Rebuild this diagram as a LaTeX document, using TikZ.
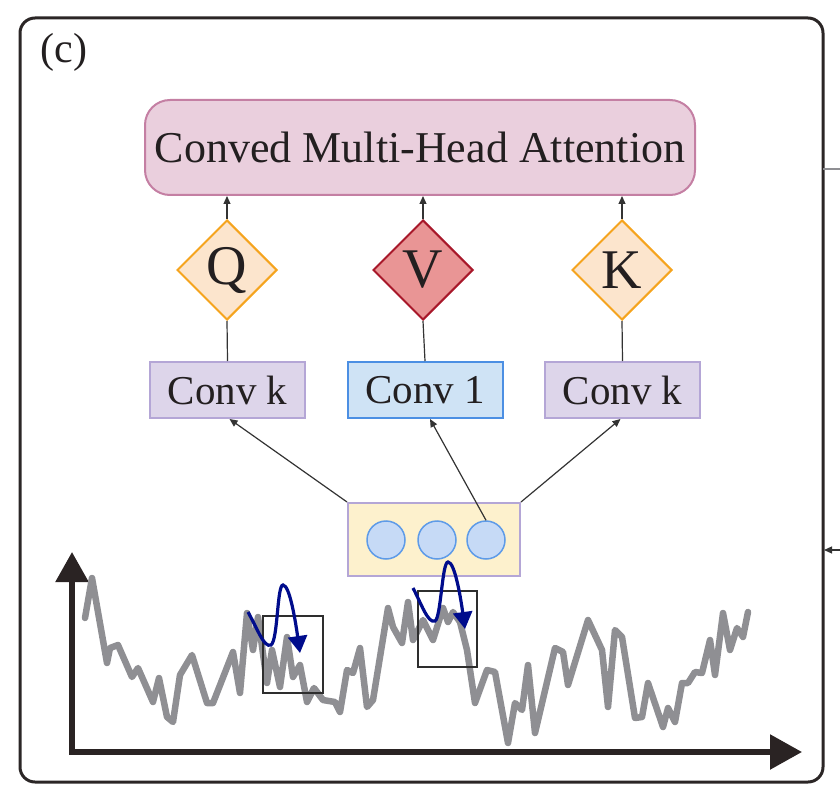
\documentclass[tikz,border=0pt]{standalone}
\usepackage{fontspec}
\setmainfont{Liberation Serif}
\usetikzlibrary{shapes.geometric,arrows.meta,calc}
\definecolor{txt}{HTML}{231F20}
\definecolor{frame}{HTML}{2B2626}
\definecolor{titlefill}{HTML}{EACFDD}
\definecolor{titledraw}{HTML}{C47FA3}
\definecolor{qkfill}{HTML}{FCE5CD}
\definecolor{qkdraw}{HTML}{F5A41E}
\definecolor{vfill}{HTML}{E99595}
\definecolor{vdraw}{HTML}{A8182A}
\definecolor{ckfill}{HTML}{DDD5EA}
\definecolor{ckdraw}{HTML}{B4A6D6}
\definecolor{cofill}{HTML}{CFE3F5}
\definecolor{codraw}{HTML}{4C8FE3}
\definecolor{embfill}{HTML}{FDF1CD}
\definecolor{circfill}{HTML}{C6DAF6}
\definecolor{circdraw}{HTML}{5E9BE8}
\definecolor{series}{HTML}{8F8F93}
\definecolor{navy}{HTML}{000C8C}
\definecolor{axiscol}{HTML}{2A2323}
\definecolor{conn}{HTML}{333333}
\begin{document}
\begin{tikzpicture}[x=1pt,y=-1pt,
  titlebox/.style={draw=titledraw,fill=titlefill,line width=2,rounded corners=25,minimum width=550,minimum height=95,inner sep=0,text=txt,font=\fontsize{44}{48}\selectfont},
  qkdiam/.style={diamond,draw=qkdraw,fill=qkfill,line width=2,minimum width=100,minimum height=100,inner sep=0,text=txt,font=\fontsize{56}{60}\selectfont},
  vdiam/.style={qkdiam,draw=vdraw,fill=vfill},
  convk/.style={draw=ckdraw,fill=ckfill,line width=2,minimum width=155,minimum height=56,inner sep=0,text=txt,font=\fontsize{41}{44}\selectfont},
  convone/.style={convk,draw=codraw,fill=cofill},
  embbox/.style={draw=ckdraw,fill=embfill,line width=2,minimum width=172,minimum height=73,inner sep=0},
  emb/.style={circle,draw=circdraw,fill=circfill,line width=1.5,minimum size=38,inner sep=0},
  arr/.style={draw=conn,line width=1.2,-{Triangle[length=8pt,width=7pt]}},
  link/.style={draw=conn,line width=1.2},
  ts/.style={draw=series,line width=6.5,line join=round,line cap=round},
  win/.style={draw=conn!90!black,line width=1.4},
  wave/.style={draw=navy,line width=3.2,-{Triangle[length=17pt,width=19pt]}},
  axis/.style={draw=axiscol,line width=5.5,{Triangle[length=30pt,width=32pt]}-{Triangle[length=32pt,width=34pt]}}
]
\useasboundingbox (0,0) rectangle (840,802);
% outer frame
\draw[frame,line width=3,rounded corners=15] (20,18) rectangle (823,782);
\node[text=txt,font=\fontsize{42}{46}\selectfont] (lab) at (64,52) {(c)};
% right stubs
\coordinate (fr1) at (823,169);
\coordinate (out1) at (840,169);
\draw[series,line width=2] (fr1) -- (out1);
\coordinate (fr2) at (824,550);
\coordinate (out2) at (840,550);
\draw[arr] (out2) -- (fr2);
% title
\node[titlebox] (title) at (420,147.5) {Conved Multi-Head Attention};
% diamonds
\node[qkdiam] (q) at (227,270) {Q};
\node[vdiam] (v) at (423,270) {V};
\node[qkdiam] (k) at (622,270) {K};
% conv boxes
\node[convk] (ck1) at (227.5,390) {Conv k};
\node[convone] (c1) at (425,390) {Conv 1};
\node[convk] (ck2) at (622.5,390) {Conv k};
% embedding box
\node[embbox] (emb) at (434,539.5) {};
\node[emb] (e1) at (386,540) {};
\node[emb] (e2) at (437,540) {};
\node[emb] (e3) at (486,540) {};
% connectors
\draw[arr] (q.north) -- (q.north |- title.south);
\draw[arr] (v.north) -- (v.north |- title.south);
\draw[arr] (k.north) -- (k.north |- title.south);
\draw[link] (ck1.north) -- (q.south);
\draw[link] (c1.north) -- (v.south);
\draw[link] (ck2.north) -- (k.south);
\draw[arr] (emb.north west) -- ([xshift=2pt]ck1.south);
\draw[arr] (e3.north) -- ([xshift=5pt]c1.south);
\draw[arr] (emb.north east) -- ([xshift=-2pt]ck2.south);
% axes
\coordinate (ytip) at (72,552);
\coordinate (orig) at (72,752);
\coordinate (xtip) at (802,752);
\draw[axis] (ytip) -- (orig) -- (xtip);
% time series
\draw[ts] (85,618) -- (92,578) -- (107,663) -- (110,648) -- (118,645) -- (132,677) -- (138,668) -- (153,702) -- (159,678) -- (167,717) -- (173,722) -- (180,675) -- (192,655) -- (207,703) -- (213,703) -- (233,652) -- (240,693) -- (247,613) -- (253,650) -- (258,617) -- (267,683) -- (272,650) -- (280,687) -- (287,637) -- (293,677) -- (300,665) -- (307,702) -- (314,688) -- (323,700) -- (335,702) -- (340,712) -- (347,670) -- (353,673) -- (360,648) -- (367,707) -- (373,700) -- (388,608) -- (393,627) -- (402,643) -- (408,602) -- (413,640) -- (423,620) -- (433,640) -- (443,608) -- (448,622) -- (453,612) -- (460,622) -- (467,650) -- (475,703) -- (487,670) -- (495,672) -- (508,743) -- (515,703) -- (522,710) -- (528,665) -- (535,733) -- (555,648) -- (563,652) -- (568,685) -- (588,620) -- (602,650) -- (608,707) -- (615,630) -- (622,637) -- (635,718) -- (642,717) -- (648,683) -- (663,727) -- (668,708) -- (675,722) -- (682,683) -- (688,683) -- (695,672) -- (702,673) -- (710,640) -- (715,675) -- (723,613) -- (730,650) -- (737,628) -- (743,637) -- (748,612);
% windows
\draw[win] (263,616) rectangle (323,693);
\draw[win] (418,591) rectangle (477,667);
% waves
\draw[wave] (248,612) .. controls (258,630) and (264,648) .. (271,645) .. controls (278,640) and (277,585) .. (283,585) .. controls (290,585) and (296,625) .. (300,653);
\draw[wave] (413,588) .. controls (421,603) and (428,624) .. (435,621) .. controls (441,618) and (442,562) .. (448,562) .. controls (455,562) and (461,600) .. (465,629);
\end{tikzpicture}
\end{document}
